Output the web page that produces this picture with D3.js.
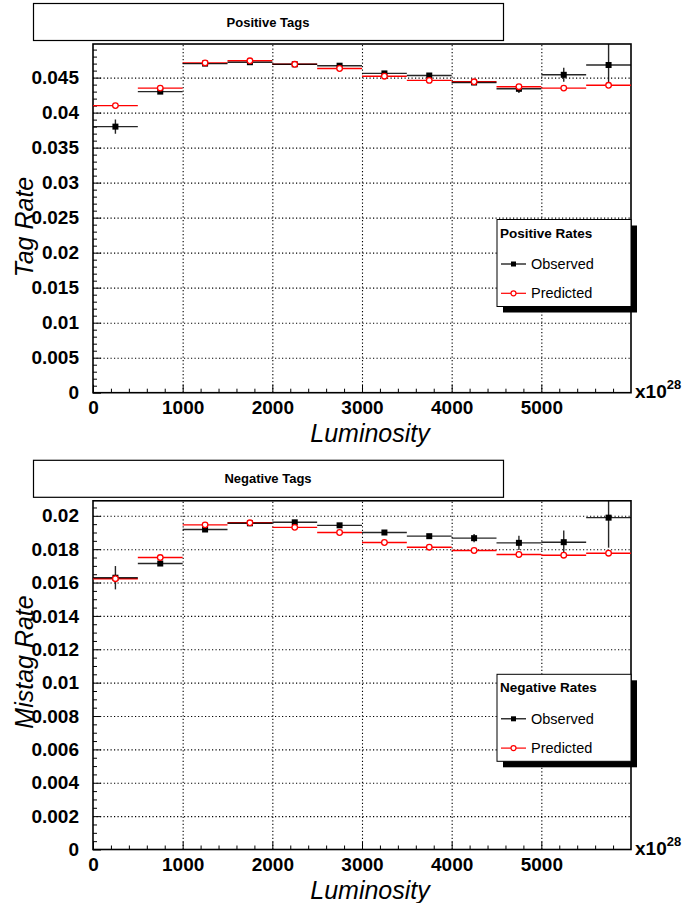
<!DOCTYPE html>
<html>
<head>
<meta charset="utf-8">
<script src="https://cdn.jsdelivr.net/npm/d3@7"></script>
<style>
  body { margin: 0; background: #fff; }
  svg { display: block; }
  text { font-family: "Liberation Sans", Arial, Helvetica, sans-serif; }
</style>
</head>
<body>
<svg id="chart" width="685" height="903"></svg>
<script>
// ---------------- DATA ----------------
const binLow = [0, 500, 1000, 1500, 2000, 2500, 3000, 3500, 4000, 4500, 5000, 5500];
const binWidth = 500;

const posObserved    = [0.0380, 0.0430, 0.0470, 0.0472, 0.0469, 0.0467, 0.0456, 0.0453, 0.0443, 0.0434, 0.0454, 0.0468];
const posObservedErr = [0.0010, 0.0002, 0.0002, 0.0002, 0.0002, 0.0002, 0.0002, 0.0002, 0.0002, 0.0006, 0.0010, 0.0031];
const posPredicted   = [0.0410, 0.0435, 0.0471, 0.0474, 0.0469, 0.0463, 0.0452, 0.0446, 0.0444, 0.0437, 0.0435, 0.0439];

const negObserved    = [0.01629, 0.01714, 0.01918, 0.01955, 0.01961, 0.01943, 0.01900, 0.01878, 0.01866, 0.01838, 0.01842, 0.01989];
const negObservedErr = [0.0007, 0.0001, 0.0001, 0.0001, 0.0001, 0.0001, 0.0001, 0.0001, 0.00025, 0.00043, 0.0007, 0.0018];
const negPredicted   = [0.01623, 0.01750, 0.01946, 0.01958, 0.01931, 0.01900, 0.01840, 0.01812, 0.01792, 0.01768, 0.01764, 0.01776];

const xTicks = [0, 1000, 2000, 3000, 4000, 5000];
const xTickLabels = ["0", "1000", "2000", "3000", "4000", "5000"];
const posYTicks = [0, 0.005, 0.01, 0.015, 0.02, 0.025, 0.03, 0.035, 0.04, 0.045];
const posYTickLabels = ["0", "0.005", "0.01", "0.015", "0.02", "0.025", "0.03", "0.035", "0.04", "0.045"];
const negYTicks = [0, 0.002, 0.004, 0.006, 0.008, 0.01, 0.012, 0.014, 0.016, 0.018, 0.02];
const negYTickLabels = ["0", "0.002", "0.004", "0.006", "0.008", "0.01", "0.012", "0.014", "0.016", "0.018", "0.02"];

const panels = [
  { title: "Positive Tags", yTitle: "Tag Rate", legendTitle: "Positive Rates",
    observed: posObserved, observedErr: posObservedErr, predicted: posPredicted,
    yMax: 0.0498, yTicks: posYTicks, yTickLabels: posYTickLabels, yMinorStep: 0.001,
    offset: 0, yTitleCenter: 227 },
  { title: "Negative Tags", yTitle: "Mistag Rate", legendTitle: "Negative Rates",
    observed: negObserved, observedErr: negObservedErr, predicted: negPredicted,
    yMax: 0.0209, yTicks: negYTicks, yTickLabels: negYTickLabels, yMinorStep: 0.0005,
    offset: 456.8, yTitleCenter: 662 }
];

// ---------------- DRAW ----------------
const svg = d3.select("#chart");
const frameL = 93, frameR = 631, frameT = 44, frameB = 392.7;

panels.forEach((p, pi) => {
  const g = svg.append("g").attr("transform", `translate(0,${p.offset})`);
  const x = d3.scaleLinear().domain([0, 6000]).range([frameL, frameR]);
  const y = d3.scaleLinear().domain([0, p.yMax]).range([frameB, frameT]);

  // title box
  g.append("rect").attr("x", 33.5).attr("y", 3.5).attr("width", 470).attr("height", 37)
    .attr("fill", "#fff").attr("stroke", "#000").attr("stroke-width", 1.2);
  g.append("text").attr("x", 268).attr("y", 26.5).attr("text-anchor", "middle")
    .attr("font-size", 13).attr("font-weight", "bold").text(p.title);

  // grid (dotted)
  const gridX = g.append("g").attr("transform", `translate(0,${frameB})`)
    .call(d3.axisBottom(x).tickValues(xTicks.filter(v => v > 0)).tickSize(-(frameB - frameT)).tickFormat(""));
  const gridY = g.append("g").attr("transform", `translate(${frameL},0)`)
    .call(d3.axisLeft(y).tickValues(p.yTicks.filter(v => v > 0)).tickSize(-(frameR - frameL)).tickFormat(""));
  [gridX, gridY].forEach(gg => {
    gg.select(".domain").remove();
    gg.selectAll("line").attr("stroke", "#000").attr("stroke-width", 1.1).attr("stroke-dasharray", "1.2,2.3");
  });

  // minor ticks
  const xMinor = d3.range(0, 6000, 200).filter(v => v % 1000 !== 0);
  const gxm = g.append("g").attr("transform", `translate(0,${frameB})`)
    .call(d3.axisBottom(x).tickValues(xMinor).tickSize(-4).tickFormat(""));
  const yMinor = d3.range(0, p.yMax, p.yMinorStep).filter(v => !p.yTicks.some(t => Math.abs(t - v) < 1e-9));
  const gym = g.append("g").attr("transform", `translate(${frameL},0)`)
    .call(d3.axisLeft(y).tickValues(yMinor).tickSize(-4).tickFormat(""));

  // major ticks + labels
  const gx = g.append("g").attr("transform", `translate(0,${frameB})`)
    .call(d3.axisBottom(x).tickValues(xTicks).tickSize(-8).tickPadding(8)
      .tickFormat((d, i) => xTickLabels[i]));
  const gy = g.append("g").attr("transform", `translate(${frameL},0)`)
    .call(d3.axisLeft(y).tickValues(p.yTicks).tickSize(-8).tickPadding(14)
      .tickFormat((d, i) => p.yTickLabels[i]));
  [gxm, gym, gx, gy].forEach(gg => {
    gg.select(".domain").remove();
    gg.selectAll("line").attr("stroke", "#000").attr("stroke-width", 1);
    gg.selectAll("text").attr("font-size", 19).attr("font-weight", "bold").attr("fill", "#000")
      .attr("font-family", "Liberation Sans, Arial, sans-serif");
  });

  // frame
  g.append("rect").attr("x", frameL).attr("y", frameT).attr("width", frameR - frameL).attr("height", frameB - frameT)
    .attr("fill", "none").attr("stroke", "#000").attr("stroke-width", 1.6);

  // clip
  const clipId = "clip" + pi;
  g.append("clipPath").attr("id", clipId).append("rect")
    .attr("x", frameL).attr("y", frameT).attr("width", frameR - frameL).attr("height", frameB - frameT);
  const plot = g.append("g").attr("clip-path", `url(#${clipId})`);

  const bins = binLow.map((lo, i) => ({
    lo, hi: lo + binWidth, c: lo + binWidth / 2,
    obs: p.observed[i], err: p.observedErr[i], pred: p.predicted[i]
  }));

  // predicted (red)
  plot.selectAll(".predH").data(bins).join("line")
    .attr("x1", d => x(d.lo)).attr("x2", d => x(d.hi))
    .attr("y1", d => y(d.pred)).attr("y2", d => y(d.pred))
    .attr("stroke", "#ff0000").attr("stroke-width", 1.4);

  // observed (black)
  plot.selectAll(".obsH").data(bins).join("line")
    .attr("x1", d => x(d.lo)).attr("x2", d => x(d.hi))
    .attr("y1", d => y(d.obs)).attr("y2", d => y(d.obs))
    .attr("stroke", "#000").attr("stroke-width", 1.4).attr("stroke-opacity", 0.85);
  plot.selectAll(".obsV").data(bins).join("line")
    .attr("x1", d => x(d.c)).attr("x2", d => x(d.c))
    .attr("y1", d => y(d.obs - d.err)).attr("y2", d => y(d.obs + d.err))
    .attr("stroke", "#000").attr("stroke-width", 1.4).attr("stroke-opacity", 0.85);
  plot.selectAll(".obsM").data(bins).join("rect")
    .attr("x", d => x(d.c) - 3).attr("y", d => y(d.obs) - 3)
    .attr("width", 6).attr("height", 6).attr("fill", "#000");
  plot.selectAll(".predM").data(bins).join("circle")
    .attr("cx", d => x(d.c)).attr("cy", d => y(d.pred)).attr("r", 2.8)
    .attr("fill", "#fff").attr("stroke", "#ff0000").attr("stroke-width", 1.3);

  // axis titles
  g.append("text").attr("x", 370).attr("y", 442).attr("text-anchor", "middle")
    .attr("font-size", 25).attr("font-style", "italic").text("Luminosity");
  g.append("text").attr("transform", `translate(33,${p.yTitleCenter - p.offset}) rotate(-90)`)
    .attr("text-anchor", "middle").attr("font-size", 25).attr("font-style", "italic").text(p.yTitle);

  // exponent
  const ex = g.append("text").attr("x", 635).attr("y", 398).attr("font-size", 19).attr("font-weight", "bold");
  ex.append("tspan").text("x10");
  ex.append("tspan").attr("font-size", 13).attr("dy", -9).text("28");

  // legend
  const lx = 497, ly = 219.5 - (pi === 0 ? 0 : 2), lw = 134, lh = 87;
  g.append("rect").attr("x", lx + 6).attr("y", ly + 6).attr("width", lw).attr("height", lh).attr("fill", "#000");
  g.append("rect").attr("x", lx).attr("y", ly).attr("width", lw).attr("height", lh)
    .attr("fill", "#fff").attr("stroke", "#000").attr("stroke-width", 1);
  g.append("text").attr("x", lx + 3).attr("y", ly + 18).attr("font-size", 13.5).attr("font-weight", "bold").text(p.legendTitle);
  const items = [
    { label: "Observed", color: "#000", type: "square", dy: 44.5 },
    { label: "Predicted", color: "#ff0000", type: "circle", dy: 73.8 }
  ];
  items.forEach(it => {
    const yy = ly + it.dy;
    g.append("line").attr("x1", lx + 4).attr("x2", lx + 29).attr("y1", yy).attr("y2", yy)
      .attr("stroke", it.color).attr("stroke-width", 1.2);
    if (it.type === "square") {
      g.append("rect").attr("x", lx + 14).attr("y", yy - 2.5).attr("width", 5).attr("height", 5).attr("fill", "#000");
    } else {
      g.append("circle").attr("cx", lx + 16.5).attr("cy", yy).attr("r", 2.5)
        .attr("fill", "#fff").attr("stroke", "#ff0000").attr("stroke-width", 1.2);
    }
    g.append("text").attr("x", lx + 34).attr("y", yy + 5).attr("font-size", 14.5).text(it.label);
  });
});
</script>
</body>
</html>
